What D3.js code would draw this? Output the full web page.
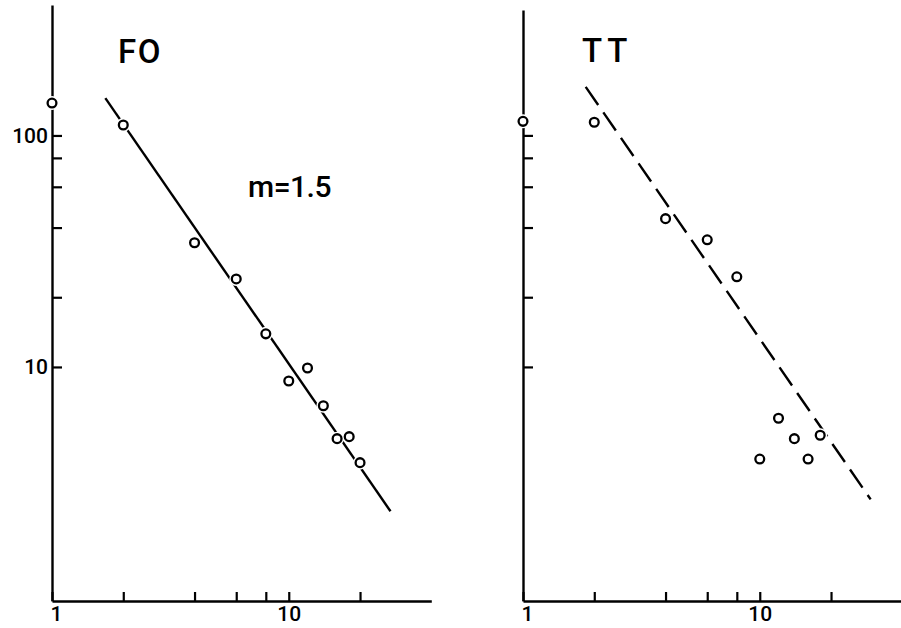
<!DOCTYPE html>
<meta charset="utf-8">
<head>
<title>FO / TT</title>
<script src="https://d3js.org/d3.v7.min.js"></script>
<style>
  body { margin: 0; background: #fff; }
  svg text { font-family: Roboto, "DejaVu Sans", sans-serif; fill: #000; font-weight: 500; }
</style>
</head>

<div id="chart"></div>

<script>
  // values
  var foX = [1, 2, 4, 6, 8, 10, 12, 14, 16, 18, 20];
  var foY = [138, 111, 34.4, 24, 13.9, 8.7, 9.9, 6.8, 4.9, 5, 3.86];
  var ttX = [1, 2, 4, 6, 8, 12, 10, 14, 16, 18];
  var ttY = [115, 114, 43.7, 35.4, 24.5, 6, 4, 4.9, 4, 5.07];

  // fitted lines, end points only
  var foFitX = [1.68, 26.9];
  var foFitY = [145, 2.38];
  var ttFitX = [1.84, 29.4];
  var ttFitY = [162, 2.68];

  var xTicks = [1, 2, 4, 6, 8, 10, 20];
  var xLabels = [1, 10];
  var yTicks = [10, 20, 40, 60, 80, 100];
  var yLabels = [10, 100];

  var width = 901, height = 628;
  var bottom = 601;

  var svg = d3.select("#chart")
    .append("svg")
      .attr("width", width)
      .attr("height", height)
      .style("background", "#fff");

  var panels = [
    {name: "FO", xs: foX, ys: foY, fx: foFitX, fy: foFitY, dash: null,
     left: 52, yTop: 366, top: 5, labels: true, nameX: 118, nameY: 63},
    {name: "TT", xs: ttX, ys: ttY, fx: ttFitX, fy: ttFitY, dash: "22,9",
     left: 523, yTop: 348, top: 10, labels: false, nameX: 582, nameY: 62}
  ];

  panels.forEach(function(p) {
    var x = d3.scaleLog().domain([1, 40]).range([p.left, p.left + 379.3]);
    var y = d3.scaleLog().domain([0.975, p.yTop]).range([bottom, p.top]);

    // x axis
    var gx = svg.append("g")
      .attr("transform", "translate(0," + bottom + ")")
      .call(d3.axisBottom(x)
        .tickValues(xTicks)
        .tickSizeInner(-9)
        .tickSizeOuter(0)
        .tickPadding(5)
        .tickFormat(function(d) { return xLabels.indexOf(d) >= 0 ? d : ""; }));
    gx.select(".domain").attr("stroke-width", 2.4);
    gx.selectAll(".tick line").attr("stroke-width", 2.2);
    gx.selectAll(".tick text")
      .style("font-size", "21px")
      .attr("dx", function(d) { return d === 1 ? 4 : 0; });

    // y axis
    var gy = svg.append("g")
      .attr("transform", "translate(" + p.left + ",0)")
      .call(d3.axisLeft(y)
        .tickValues(yTicks)
        .tickSizeInner(-10)
        .tickSizeOuter(0)
        .tickPadding(4)
        .tickFormat(function(d) { return p.labels && yLabels.indexOf(d) >= 0 ? d : ""; }));
    gy.select(".domain").attr("stroke-width", 2.4);
    gy.selectAll(".tick line").attr("stroke-width", 2.2);
    gy.selectAll(".tick text").style("font-size", "21px");

    // fitted line
    var fit = p.fx.map(function(v, i) { return [v, p.fy[i]]; });
    svg.append("path")
      .datum(fit)
      .attr("fill", "none")
      .attr("stroke", "#000")
      .attr("stroke-width", 2.4)
      .attr("stroke-dasharray", p.dash)
      .attr("d", d3.line()
        .x(function(d) { return x(d[0]); })
        .y(function(d) { return y(d[1]); }));

    var pts = p.xs.map(function(v, i) { return [v, p.ys[i]]; });

    // white gap round each point
    svg.selectAll(null)
      .data(pts)
      .enter()
      .append("circle")
        .attr("cx", function(d) { return x(d[0]); })
        .attr("cy", function(d) { return y(d[1]); })
        .attr("r", 7)
        .attr("fill", "#fff");

    svg.selectAll(null)
      .data(pts)
      .enter()
      .append("circle")
        .attr("cx", function(d) { return x(d[0]); })
        .attr("cy", function(d) { return y(d[1]); })
        .attr("r", 4.4)
        .attr("fill", "#fff")
        .attr("stroke", "#000")
        .attr("stroke-width", 2.3);

    // panel name
    svg.append("text")
      .attr("x", p.nameX)
      .attr("y", p.nameY)
      .style("font-size", "33px")
      .style("letter-spacing", p.name === "TT" ? "5px" : "1.5px")
      .text(p.name);
  });

  // slope note
  svg.append("text")
    .attr("x", 248)
    .attr("y", 197)
    .style("font-size", "30px")
    .style("letter-spacing", "-0.5px")
    .text("m=1.5");
</script>
